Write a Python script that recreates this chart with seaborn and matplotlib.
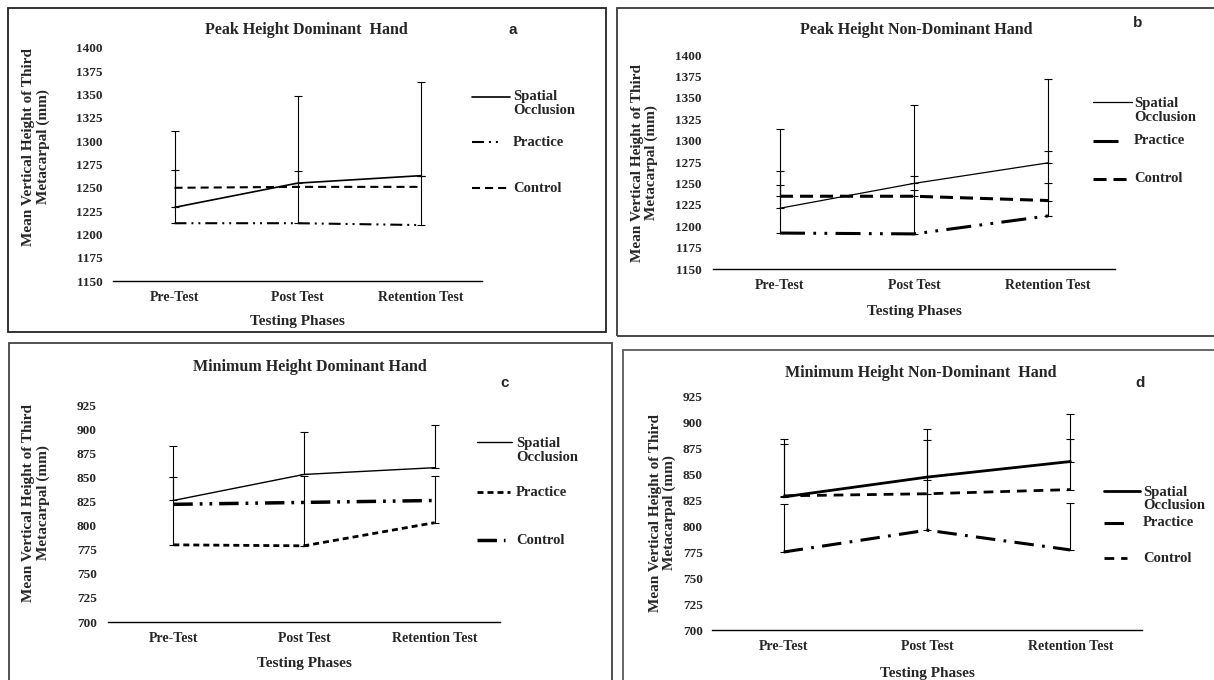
import numpy as np
import seaborn as sns
import matplotlib.pyplot as plt
from matplotlib.patches import Rectangle
from matplotlib.lines import Line2D

# testing phases on the x axis
phases = ["Pre-Test", "Post Test", "Retention Test"]

# a - peak height, dominant hand
a_spatial = [1229, 1255, 1263]
a_practice = [1212, 1212, 1210]
a_control = [1250, 1251, 1251]
a_spatial_err = [82, 94, 101]
a_practice_err = [57, 56, 53]

# b - peak height, non-dominant hand
b_spatial = [1221, 1250, 1274]
b_practice = [1192, 1191, 1212]
b_control = [1235, 1235, 1230]
b_spatial_err = [93, 92, 98]
b_practice_err = [56, 51, 38]
b_control_err = [29, 24, 58]

# c - minimum height, dominant hand
c_spatial = [826, 853, 860]
c_practice = [780, 779, 803]
c_control = [822, 824, 826]
c_spatial_err = [56, 44, 44]
c_practice_err = [70, 72, 48]

# d - minimum height, non-dominant hand
d_spatial = [828, 847, 862]
d_practice = [775, 796, 777]
d_control = [829, 831, 835]
d_spatial_err = [56, 46, 46]
d_practice_err = [46, 48, 45]
d_control_err = [50, 52, 49]

peak_ticks = list(range(1150, 1401, 25))
min_ticks = list(range(700, 926, 25))

sns.set_style("white")
plt.rcParams['font.family'] = ['Liberation Serif', 'DejaVu Serif']
plt.rcParams['font.weight'] = 'bold'
plt.rcParams['lines.scale_dashes'] = False

W, H = 1214, 680
fig = plt.figure(figsize=(W / 100, H / 100), dpi=100)


def fx(x):
    return x / W


def fy(y):
    return 1 - y / H


def add_axes(x0, y0, x1, y1):
    return fig.add_axes([fx(x0), fy(y1), fx(x1 - x0), (y1 - y0) / H])


def setup(ax, ticks, ypad):
    ax.set_xlim(-0.5, 2.5)
    ax.set_ylim(ticks[0], ticks[-1])
    ax.set_yticks(ticks)
    ax.set_xticks(range(len(phases)), phases)
    for s in ['top', 'right', 'left']:
        ax.spines[s].set_visible(False)
    ax.spines['bottom'].set_color('black')
    ax.spines['bottom'].set_linewidth(1.0)
    ax.tick_params(length=0)
    ax.tick_params(axis='y', pad=ypad, labelsize=9.5)
    ax.tick_params(axis='x', pad=7, labelsize=10)
    ax.set_facecolor('none')
    ax.set_xlabel('')
    ax.set_ylabel('')


def series(ax, values, lw, ls):
    sns.lineplot(x=np.arange(len(phases)), y=values, ax=ax, color='black',
                 linewidth=lw, linestyle=ls, legend=False, sort=False)


def errs(ax, values, upper):
    ax.errorbar(np.arange(len(phases)), values, yerr=[np.zeros(len(upper)), upper],
                fmt='none', ecolor='black', elinewidth=0.8, capsize=3, capthick=0.8)


def key(x0, x1, y, lw, ls):
    fig.add_artist(Line2D([fx(x0), fx(x1)], [fy(y), fy(y)], color='black',
                          linewidth=lw, linestyle=ls))


def label(x, y, s, size=10.5, spacing=1.1):
    fig.text(fx(x), fy(y), s, ha='left', va='center', fontsize=size,
             linespacing=spacing)


def frame(x0, y0, x1, y1, color):
    fig.add_artist(Rectangle((fx(x0), fy(y1)), fx(x1 - x0), (y1 - y0) / H,
                             fill=False, edgecolor=color, linewidth=1.3))


def texts(title, tx, ty, letter, lx, ly, ylx, yly, xlx, xly):
    fig.text(fx(tx), fy(ty), title, ha='center', va='center', fontsize=11.5)
    fig.text(fx(lx), fy(ly), letter, ha='center', va='center', fontsize=11,
             family=['Liberation Sans', 'DejaVu Sans'])
    fig.text(fx(ylx), fy(yly), "Mean Vertical Height of Third\nMetacarpal (mm)",
             ha='center', va='center', rotation=90, fontsize=11,
             multialignment='center', linespacing=1.05)
    fig.text(fx(xlx), fy(xly), "Testing Phases", ha='center', va='center',
             fontsize=11)


# panel borders
frame(8, 8, 606, 332, '#222222')
frame(617, 8, 1220, 336, '#3a3a3a')
frame(9, 343, 612, 690, '#444444')
frame(623, 350, 1220, 690, '#5a5a5a')

# ---- a ----
ls_a_sp, ls_a_pr, ls_a_co = '-', (0, (8.6, 3.6, 1.4, 3.6, 1.4, 3.6)), (0, (5.8, 3.6))
ax = add_axes(113, 48, 482, 281)
setup(ax, peak_ticks, 7.5)
errs(ax, a_spatial, a_spatial_err)
errs(ax, a_practice, a_practice_err)
series(ax, a_spatial, 1.2, ls_a_sp)
series(ax, a_practice, 1.5, ls_a_pr)
series(ax, a_control, 1.5, ls_a_co)
texts("Peak Height Dominant  Hand", 306, 30, "a", 513, 30, 36, 147, 297, 322)
key(472, 510, 97, 1.2, ls_a_sp)
key(472, 500, 142, 1.5, ls_a_pr)
key(472, 510, 188, 1.5, ls_a_co)
label(513, 103.5, "Spatial\nOcclusion")
label(513, 142, "Practice")
label(513, 188, "Control")

# ---- b ----
ls_b_sp, ls_b_pr, ls_b_co = '-', (0, (18, 6, 2, 6, 2, 6)), (0, (9.4, 5))
ax = add_axes(713, 55, 1115, 269)
setup(ax, peak_ticks, 8)
errs(ax, b_spatial, b_spatial_err)
errs(ax, b_practice, b_practice_err)
errs(ax, b_control, b_control_err)
series(ax, b_spatial, 0.9, ls_b_sp)
series(ax, b_practice, 2.2, ls_b_pr)
series(ax, b_control, 2.2, ls_b_co)
texts("Peak Height Non-Dominant Hand", 916, 30, "b", 1138, 23, 645, 163, 914, 312)
key(1093, 1132, 102, 0.9, ls_b_sp)
key(1093, 1118, 141, 2.2, ls_b_pr)
key(1093, 1127, 179, 2.2, ls_b_co)
label(1134, 110.5, "Spatial\nOcclusion")
label(1134, 141, "Practice")
label(1134, 179, "Control")

# ---- c ----
ls_c_sp, ls_c_pr, ls_c_co = '-', (0, (4.3, 2.9)), (0, (14, 5, 2, 5, 2, 5))
ax = add_axes(108, 405, 500, 622)
setup(ax, min_ticks, 8)
errs(ax, c_spatial, c_spatial_err)
errs(ax, c_practice, c_practice_err)
series(ax, c_spatial, 1.0, ls_c_sp)
series(ax, c_practice, 2.0, ls_c_pr)
series(ax, c_control, 2.5, ls_c_co)
texts("Minimum Height Dominant Hand", 310, 367, "c", 505, 383, 36, 503, 304, 663)
key(477, 512, 442, 1.0, ls_c_sp)
key(477, 510, 492, 2.0, ls_c_pr)
key(477, 505, 540, 2.5, ls_c_co)
label(516, 450.5, "Spatial\nOcclusion")
label(516, 492, "Practice")
label(516, 540, "Control")

# ---- d ----
ls_d_sp, ls_d_pr, ls_d_co = '-', (0, (14, 6, 2, 6)), (0, (7, 5))
ax = add_axes(712, 396, 1142, 630)
setup(ax, min_ticks, 6.5)
errs(ax, d_spatial, d_spatial_err)
errs(ax, d_practice, d_practice_err)
errs(ax, d_control, d_control_err)
series(ax, d_spatial, 2.0, ls_d_sp)
series(ax, d_practice, 2.2, ls_d_pr)
series(ax, d_control, 2.0, ls_d_co)
texts("Minimum Height Non-Dominant  Hand", 921, 373, "d", 1140, 383, 662, 513, 927, 673)
key(1104, 1140, 491, 2.0, ls_d_sp)
key(1104, 1127, 523, 2.2, ls_d_pr)
key(1104, 1127, 558, 2.0, ls_d_co)
label(1143, 499, "Spatial\nOcclusion", spacing=1.0)
label(1143, 523, "Practice")
label(1143, 558, "Control")

fig.savefig("out.png", dpi=100)
